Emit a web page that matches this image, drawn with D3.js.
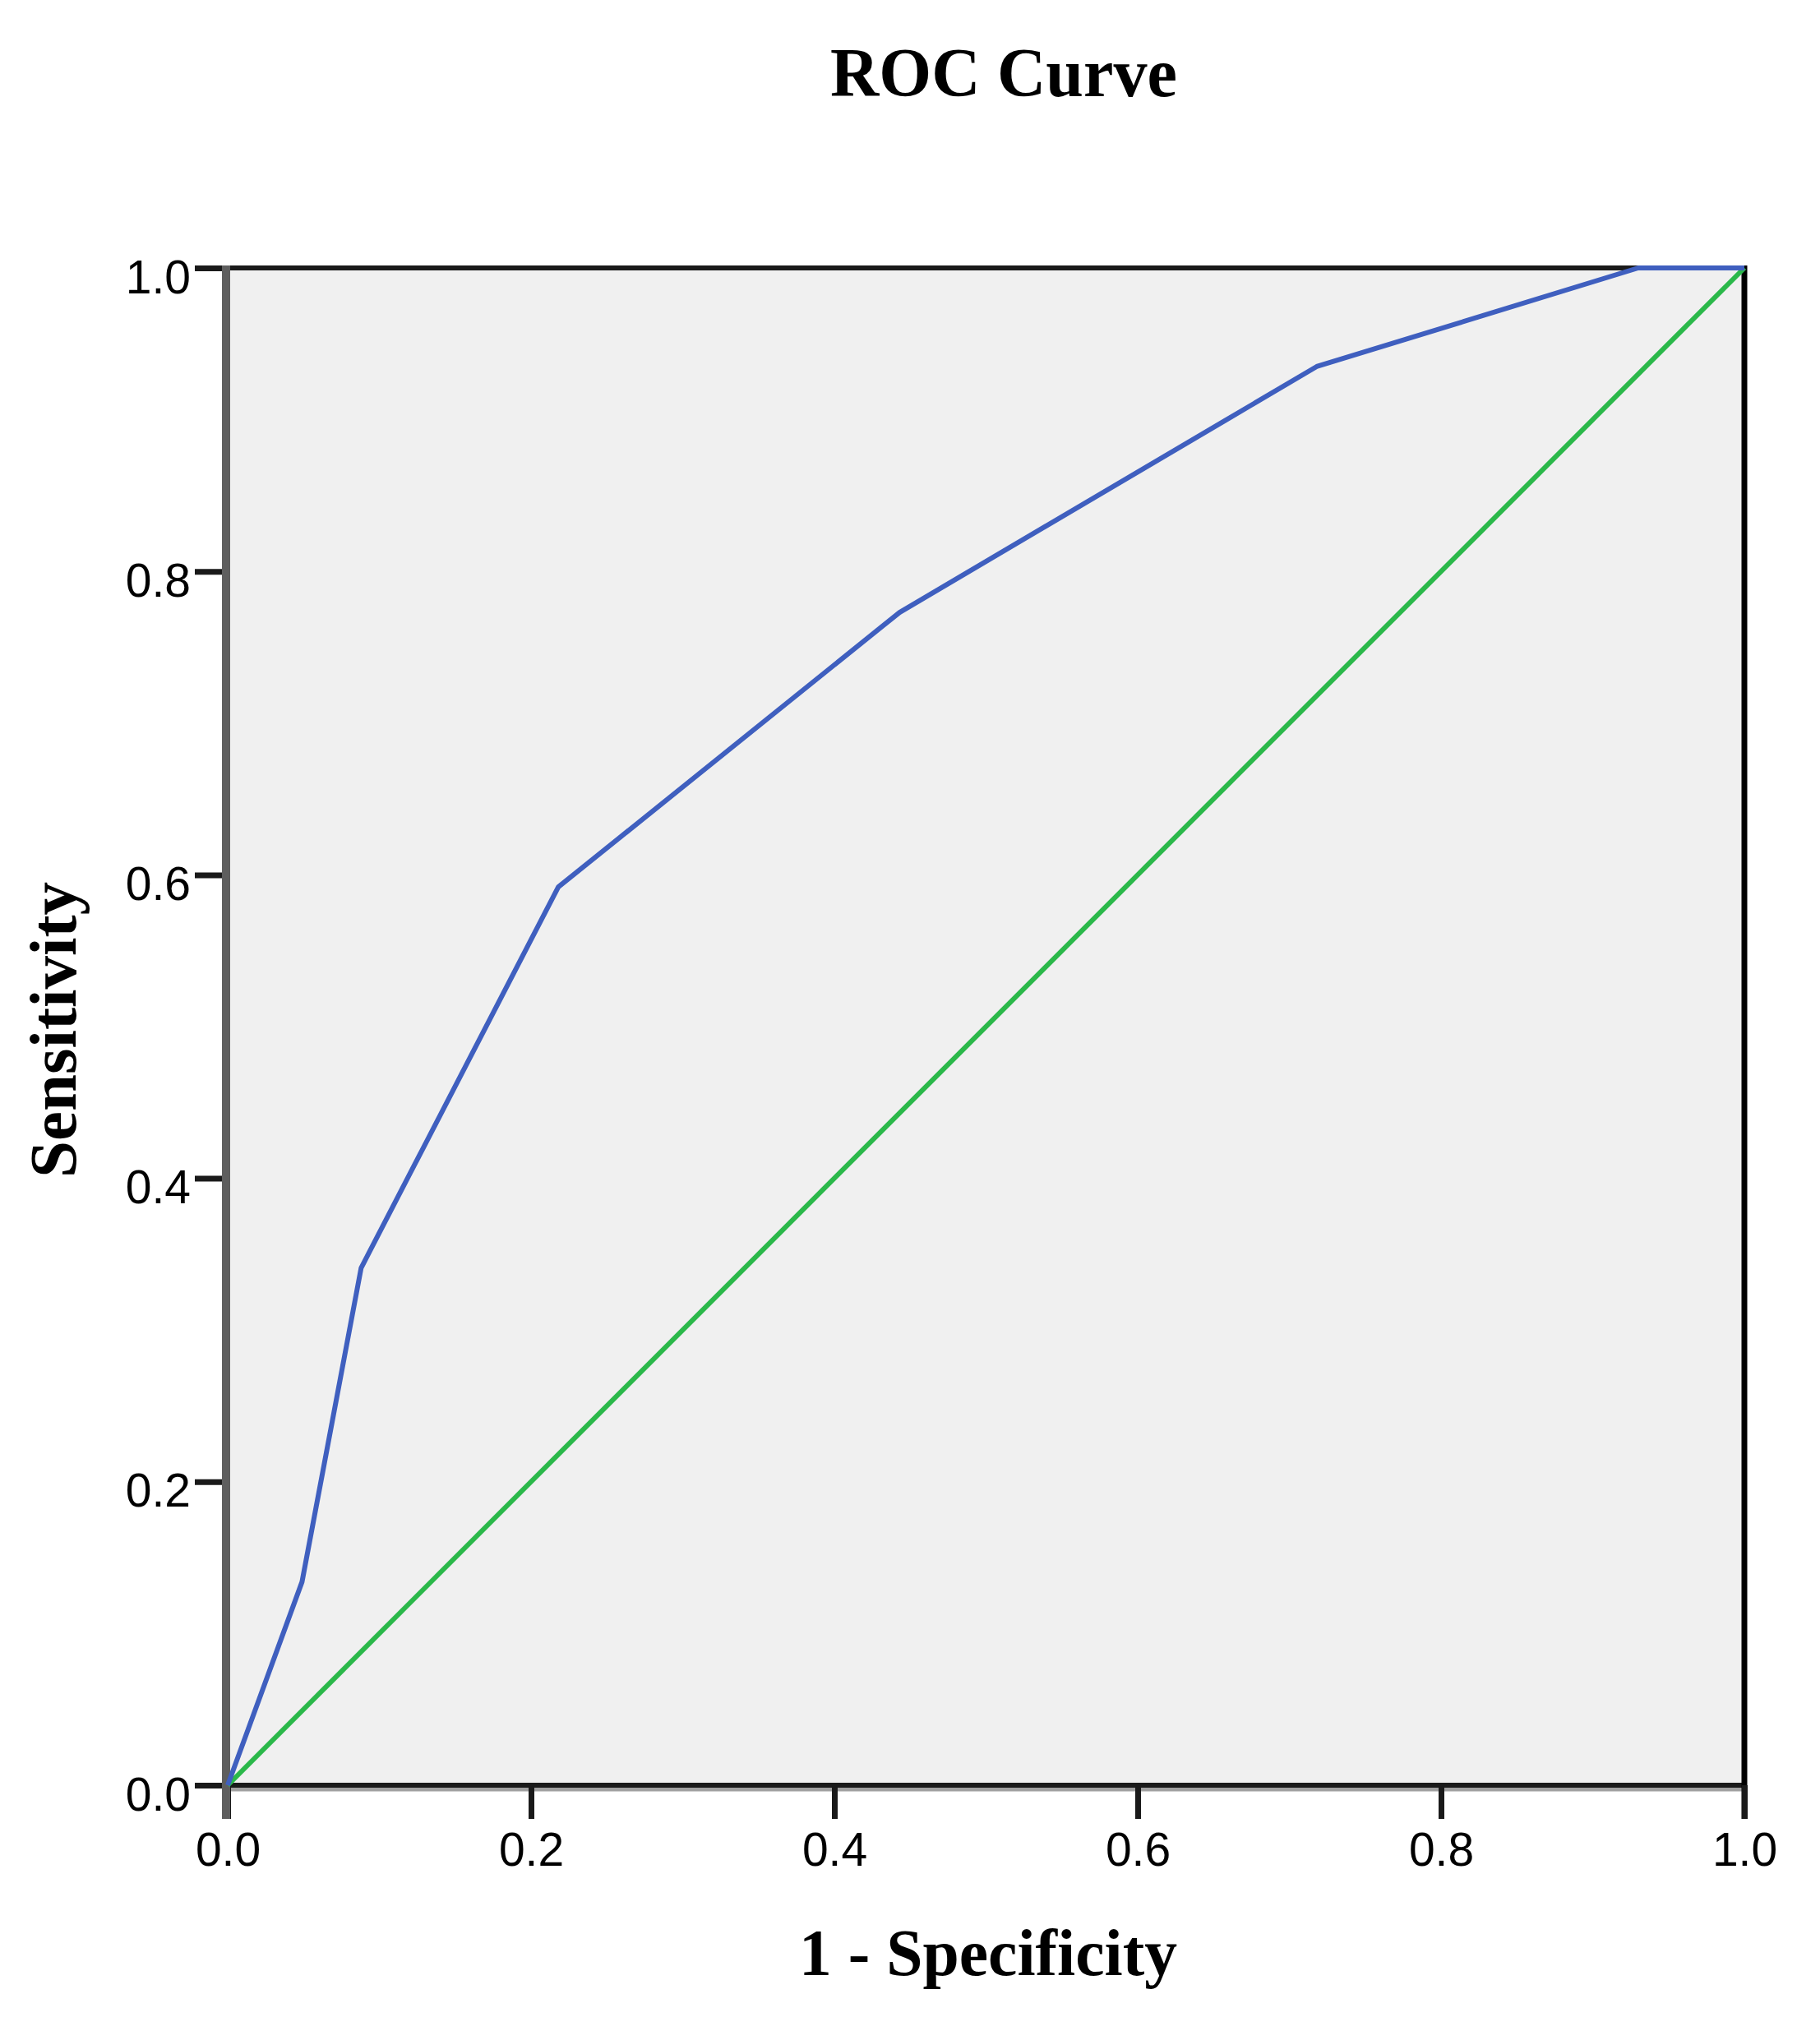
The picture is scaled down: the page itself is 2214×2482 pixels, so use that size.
<!DOCTYPE html>
<html>
<head>
<meta charset="utf-8">
<script src="https://cdn.jsdelivr.net/npm/d3@7"></script>
<style>
  html, body { margin: 0; padding: 0; background: #ffffff; }
  svg { display: block; }
</style>
</head>
<body>
<svg id="chart" width="2214" height="2482"></svg>
<script>
// ---- Data ----
const fpr = [0, 0.049, 0.088, 0.218, 0.443, 0.718, 0.930, 1.0];          // 1 - Specificity
const tpr = [0, 0.134, 0.341, 0.592, 0.773, 0.935, 1.0, 1.0];            // Sensitivity
const refX = [0, 1];                                                    // reference line
const refY = [0, 1];
const tickValues = [0, 0.2, 0.4, 0.6, 0.8, 1.0];
const titleText = "ROC Curve";
const xTitle = "1 - Specificity";
const yTitle = "Sensitivity";

// ---- Layout ----
const plotLeft = 277, plotRight = 2122, plotTop = 326, plotBottom = 2172;
const svg = d3.select("#chart");
svg.append("rect").attr("width", 2214).attr("height", 2482).attr("fill", "#ffffff");

const x = d3.scaleLinear().domain([0, 1]).range([plotLeft, plotRight]);
const y = d3.scaleLinear().domain([0, 1]).range([plotBottom, plotTop]);

// plot background
svg.append("rect")
  .attr("x", x(0)).attr("y", y(1))
  .attr("width", x(1) - x(0)).attr("height", y(0) - y(1))
  .attr("fill", "#f0f0f0");

// frame lines
svg.append("line").attr("x1", x(0)).attr("x2", x(1) + 3).attr("y1", y(1)).attr("y2", y(1))
  .attr("stroke", "#1a1a1a").attr("stroke-width", 6);
svg.append("line").attr("x1", x(0)).attr("x2", x(1)).attr("y1", y(0) + 5).attr("y2", y(0) + 5)
  .attr("stroke", "#a0a0a0").attr("stroke-width", 5);
svg.append("line").attr("x1", x(0)).attr("x2", x(1)).attr("y1", y(0)).attr("y2", y(0))
  .attr("stroke", "#1a1a1a").attr("stroke-width", 6);
svg.append("line").attr("x1", x(1)).attr("x2", x(1)).attr("y1", y(1) - 3).attr("y2", y(0) + 41)
  .attr("stroke", "#000000").attr("stroke-width", 7);

// axes
const fmt = d3.format(".1f");
const xAxis = svg.append("g").attr("transform", `translate(0,${y(0)})`)
  .call(d3.axisBottom(x).tickValues(tickValues).tickFormat(fmt).tickSize(41).tickPadding(16));
const yAxis = svg.append("g").attr("transform", `translate(${x(0)},0)`)
  .call(d3.axisLeft(y).tickValues(tickValues).tickFormat(fmt).tickSize(40).tickPadding(5));

[xAxis, yAxis].forEach(g => {
  g.select(".domain").remove();
  g.selectAll(".tick line").attr("stroke", "#1a1a1a").attr("stroke-width", 7);
  g.selectAll(".tick text")
    .attr("fill", "#000")
    .style("font-family", "'Liberation Sans', Arial, sans-serif")
    .style("font-size", "57px");
});
xAxis.selectAll(".tick text").attr("y", 98).attr("dy", 0);
yAxis.selectAll(".tick text").attr("dy", 30);

// left axis (gray, thick)
svg.append("line").attr("x1", x(0) - 2).attr("x2", x(0) - 2).attr("y1", y(1) - 3).attr("y2", y(0) + 41)
  .attr("stroke", "#5e5e5e").attr("stroke-width", 10);

// reference diagonal
const line = d3.line().x(d => x(d[0])).y(d => y(d[1]));
svg.append("path")
  .datum(d3.zip(refX, refY))
  .attr("d", line)
  .attr("fill", "none")
  .attr("stroke", "#2bb84a")
  .attr("stroke-width", 6);

// ROC curve
svg.append("path")
  .datum(d3.zip(fpr, tpr))
  .attr("d", line)
  .attr("fill", "none")
  .attr("stroke", "#3f5fbf")
  .attr("stroke-width", 6)
  .attr("stroke-linejoin", "round");

// titles
const serif = "'Liberation Serif', 'Times New Roman', serif";
svg.append("text")
  .attr("x", 1221).attr("y", 117)
  .attr("text-anchor", "middle")
  .attr("textLength", 422).attr("lengthAdjust", "spacingAndGlyphs")
  .style("font-family", serif).style("font-weight", "bold").style("font-size", "84px")
  .text(titleText);

svg.append("text")
  .attr("x", 1202).attr("y", 2403)
  .attr("text-anchor", "middle")
  .attr("textLength", 460).attr("lengthAdjust", "spacingAndGlyphs")
  .style("font-family", serif).style("font-weight", "bold").style("font-size", "80px")
  .text(xTitle);

svg.append("text")
  .attr("transform", "translate(92,1253) rotate(-90)")
  .attr("text-anchor", "middle")
  .attr("textLength", 360).attr("lengthAdjust", "spacingAndGlyphs")
  .style("font-family", serif).style("font-weight", "bold").style("font-size", "80px")
  .text(yTitle);
</script>
</body>
</html>
